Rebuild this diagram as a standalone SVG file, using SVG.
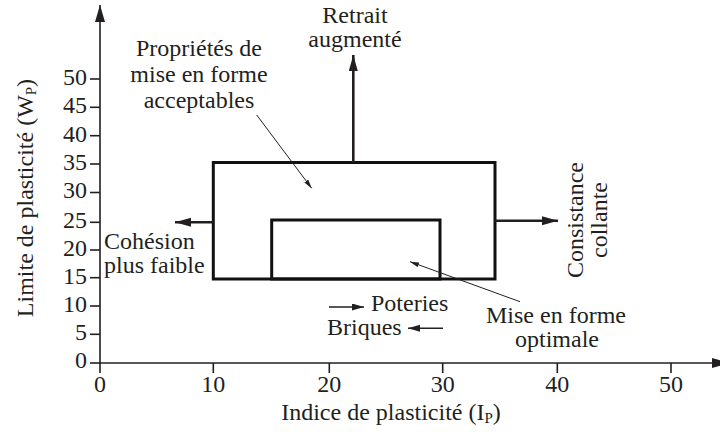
<svg xmlns="http://www.w3.org/2000/svg" width="720" height="432" viewBox="0 0 720 432" font-family="'Liberation Serif', 'Times New Roman', 'DejaVu Serif', serif">
<style>
text{font-family:'Liberation Serif','Times New Roman','DejaVu Serif',serif;font-size:24px;fill:#231f20}
text.tk{font-size:24px}
.c{text-anchor:middle}
.r{text-anchor:end}
.ax{stroke:#231f20;stroke-width:1.6;fill:none}
.box{stroke:#111;stroke-width:3;fill:none}
.thick{stroke:#231f20;stroke-width:2.6;fill:none}
.mid{stroke:#231f20;stroke-width:1.6;fill:none}
.thin{stroke:#231f20;stroke-width:1;fill:none}
</style>
<defs>
<marker id="hBig" markerUnits="userSpaceOnUse" markerWidth="18" markerHeight="10" refX="16" refY="4.5" orient="auto"><path d="M0,0 L16,4.5 L0,9 z" fill="#231f20"/></marker>
<marker id="hAx" markerUnits="userSpaceOnUse" markerWidth="18" markerHeight="12" refX="17" refY="5" orient="auto"><path d="M0,0 L17,5 L0,10 z" fill="#231f20"/></marker>
<marker id="hMid" markerUnits="userSpaceOnUse" markerWidth="13" markerHeight="8" refX="12" refY="3.5" orient="auto"><path d="M0,0 L12,3.5 L0,7 z" fill="#231f20"/></marker>
<marker id="hThin" markerUnits="userSpaceOnUse" markerWidth="10" markerHeight="6" refX="9" refY="2.5" orient="auto"><path d="M0,0 L9,2.5 L0,5 z" fill="#231f20"/></marker>
</defs>
<g id="axes">
<line class="ax" x1="100" y1="363" x2="100" y2="5" marker-end="url(#hAx)"/>
<line class="ax" x1="100" y1="363" x2="729" y2="363" marker-end="url(#hAx)"/>
<g class="ax">
<line x1="90" y1="363" x2="100" y2="363"/>
<line x1="90" y1="334.3" x2="100" y2="334.3"/>
<line x1="90" y1="306" x2="100" y2="306"/>
<line x1="90" y1="277.7" x2="100" y2="277.7"/>
<line x1="90" y1="250" x2="100" y2="250"/>
<line x1="90" y1="222.3" x2="100" y2="222.3"/>
<line x1="90" y1="192.5" x2="100" y2="192.5"/>
<line x1="90" y1="164" x2="100" y2="164"/>
<line x1="90" y1="135.7" x2="100" y2="135.7"/>
<line x1="90" y1="107.3" x2="100" y2="107.3"/>
<line x1="90" y1="79" x2="100" y2="79"/>
<line x1="100" y1="363" x2="100" y2="373"/>
<line x1="213.3" y1="363" x2="213.3" y2="373"/>
<line x1="329.3" y1="363" x2="329.3" y2="373"/>
<line x1="442.7" y1="363" x2="442.7" y2="373"/>
<line x1="557.3" y1="363" x2="557.3" y2="373"/>
<line x1="671" y1="363" x2="671" y2="373"/>
</g>
<g>
<text class="tk r" x="87" y="368">0</text>
<text class="tk r" x="87" y="340">5</text>
<text class="tk r" x="87" y="312">10</text>
<text class="tk r" x="87" y="283.5">15</text>
<text class="tk r" x="87" y="256">20</text>
<text class="tk r" x="87" y="228">25</text>
<text class="tk r" x="87" y="198">30</text>
<text class="tk r" x="87" y="170">35</text>
<text class="tk r" x="87" y="141.5">40</text>
<text class="tk r" x="87" y="113">45</text>
<text class="tk r" x="87" y="85">50</text>
</g>
<text class="tk c" x="100" y="392">0</text>
<text class="tk c" x="213.3" y="392">10</text>
<text class="tk c" x="329.3" y="392">20</text>
<text class="tk c" x="442.7" y="392">30</text>
<text class="tk c" x="557.3" y="392">40</text>
<text class="tk c" x="671" y="392">50</text>
<text class="c" x="391" y="420">Indice de plasticité (I<tspan font-size="15" dy="3">P</tspan><tspan dy="-3">)</tspan></text>
<text class="c" transform="translate(33,198) rotate(-90)">Limite de plasticité (W<tspan font-size="15" dy="3">P</tspan><tspan dy="-3">)</tspan></text>
</g>
<g id="zone-acceptable">
<rect class="box" x="213.3" y="162.5" width="281.7" height="116.5"/>
</g>
<g id="zone-optimale">
<rect class="box" x="271.7" y="220" width="168.3" height="59"/>
</g>
<g id="connectors">
<line class="thick" x1="353.3" y1="162.5" x2="353.3" y2="55" marker-end="url(#hBig)"/>
<line class="thick" x1="213.3" y1="222.3" x2="175" y2="222.3" marker-end="url(#hBig)"/>
<line class="thick" x1="495" y1="220.7" x2="558" y2="220.7" marker-end="url(#hBig)"/>
<line class="mid" x1="329" y1="307" x2="364" y2="307" marker-end="url(#hMid)"/>
<line class="mid" x1="443" y1="328.3" x2="408" y2="328.3" marker-end="url(#hMid)"/>
<line class="thin" x1="256.7" y1="115" x2="311.7" y2="188.3" marker-end="url(#hThin)"/>
<line class="thin" x1="520" y1="301.7" x2="410" y2="261.7" marker-end="url(#hThin)"/>
</g>
<g id="label-retrait">
<text class="c" x="355" y="23">Retrait</text>
<text class="c" x="355" y="47">augmenté</text>
</g>
<g id="label-proprietes">
<text class="c" x="199" y="56">Propriétés de</text>
<text class="c" x="199" y="82">mise en forme</text>
<text class="c" x="199" y="108">acceptables</text>
</g>
<g id="label-cohesion">
<text x="104" y="249">Cohésion</text>
<text x="104" y="273">plus faible</text>
</g>
<g id="label-consistance">
<text class="c" transform="translate(583,220) rotate(-90)">Consistance</text>
<text class="c" transform="translate(607,220) rotate(-90)">collante</text>
</g>
<g id="label-poteries">
<text x="371" y="311">Poteries</text>
</g>
<g id="label-briques">
<text x="327" y="335">Briques</text>
</g>
<g id="label-optimale">
<text class="c" x="556" y="323">Mise en forme</text>
<text class="c" x="557" y="347">optimale</text>
</g>
</svg>
